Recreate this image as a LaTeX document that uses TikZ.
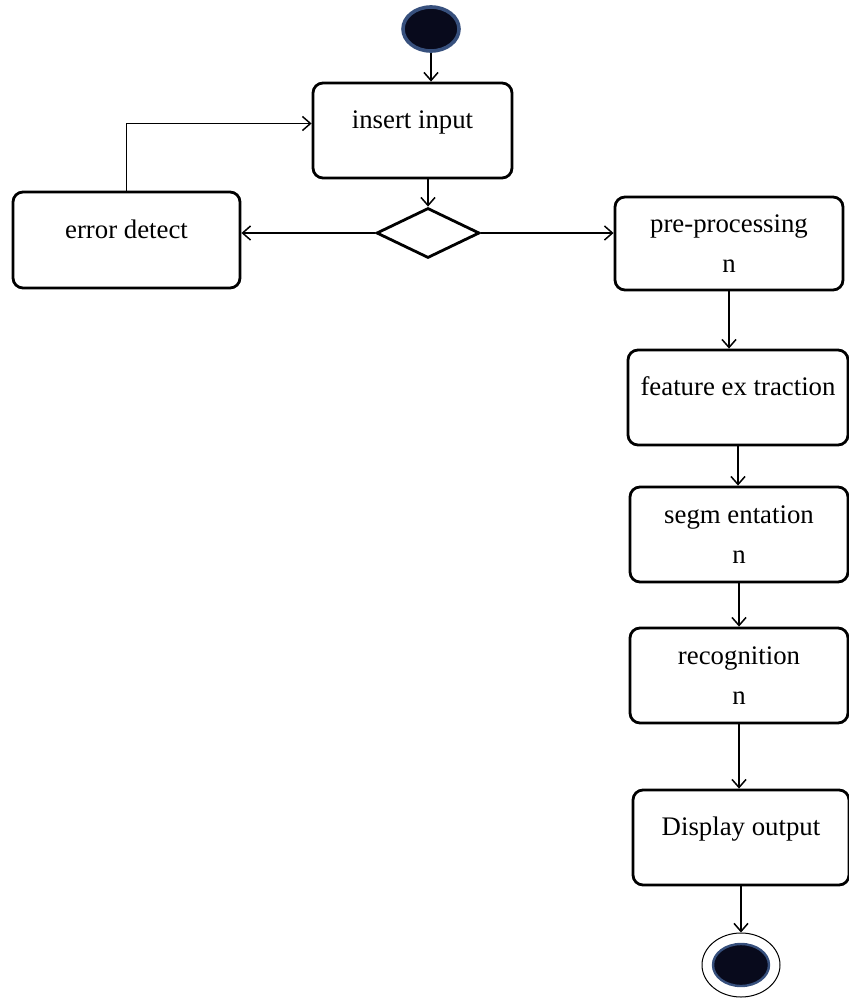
\documentclass[tikz,border=0pt]{standalone}
\usepackage{fontspec}
\setmainfont{Liberation Serif}
\usepackage{tikz}
\usetikzlibrary{arrows,arrows.meta,shapes.geometric}

\definecolor{relleno}{RGB}{8,10,28}
\definecolor{borde}{RGB}{55,80,125}

\tikzset{
  caja/.style={draw, line width=1.4pt, rounded corners=5pt, align=center,
    font=\fontsize{13.4}{20}\selectfont},
  caja1/.style={caja, text height=10pt, text depth=12pt},
  flecha/.style={-{Straight Barb[length=4pt,width=7pt]}, line width=0.75pt},
  punto/.style={ellipse, fill=relleno, inner sep=0pt}
}

\begin{document}
\begin{tikzpicture}[x=0.5pt,y=-0.5pt]
%marco de la figura
\useasboundingbox (0,0) rectangle (849,1001);

%nodo inicial
\node[punto, draw=borde, line width=1.8pt, minimum width=28pt, minimum height=22pt] (inicio) at (431,29) {};

%cajas de las actividades
\node[caja1, minimum width=99.5pt, minimum height=47.5pt] (insert) at (412.5,130.5) {insert input};
\node[caja1, minimum width=113.5pt, minimum height=48pt] (error) at (126.5,240) {error  detect};
\node[caja, minimum width=114pt, minimum height=46.5pt] (pre) at (729,243.5) {pre-processing\\n};
\node[caja1, minimum width=110pt, minimum height=47.5pt] (feat) at (738,397.5) {feature ex traction};
\node[caja, minimum width=109pt, minimum height=47.5pt] (seg) at (739,534.5) {segm entation\\n};
\node[caja, minimum width=109pt, minimum height=47.5pt] (recog) at (739,675.5) {recognition\\n};
\node[caja1, minimum width=108pt, minimum height=47.5pt] (display) at (741,837.5) {Display  output};

%rombo de decision
\node[diamond, draw, line width=1.4pt, inner sep=0pt, minimum width=51.5pt, minimum height=25pt] (rombo) at (428,233) {};

%nodo final
\node[ellipse, draw, line width=0.5pt, minimum width=39pt, minimum height=32pt] (fin) at (741,965) {};
\node[punto, draw=borde, line width=1.2pt, minimum width=28pt, minimum height=21pt] (finint) at (fin.center) {};

%flechas de arriba
\draw[flecha] (inicio.south) -- (inicio.south |- insert.north);
\draw[flecha] (insert.south -| rombo.north) -- (rombo.north);
\draw[flecha] (rombo.west) -- (rombo.west -| error.east);
\draw[flecha] (rombo.east) -- (rombo.east -| pre.west);
\draw[flecha] (error.north) |- ([yshift=3.5pt]insert.west);

%flechas de la columna derecha
\foreach \a/\b in {pre/feat,feat/seg,seg/recog,recog/display}
	\draw[flecha] (\a.south) -- (\a.south |- \b.north);
\draw[flecha] (display.south) -- (fin.north);
\end{tikzpicture}
\end{document}
